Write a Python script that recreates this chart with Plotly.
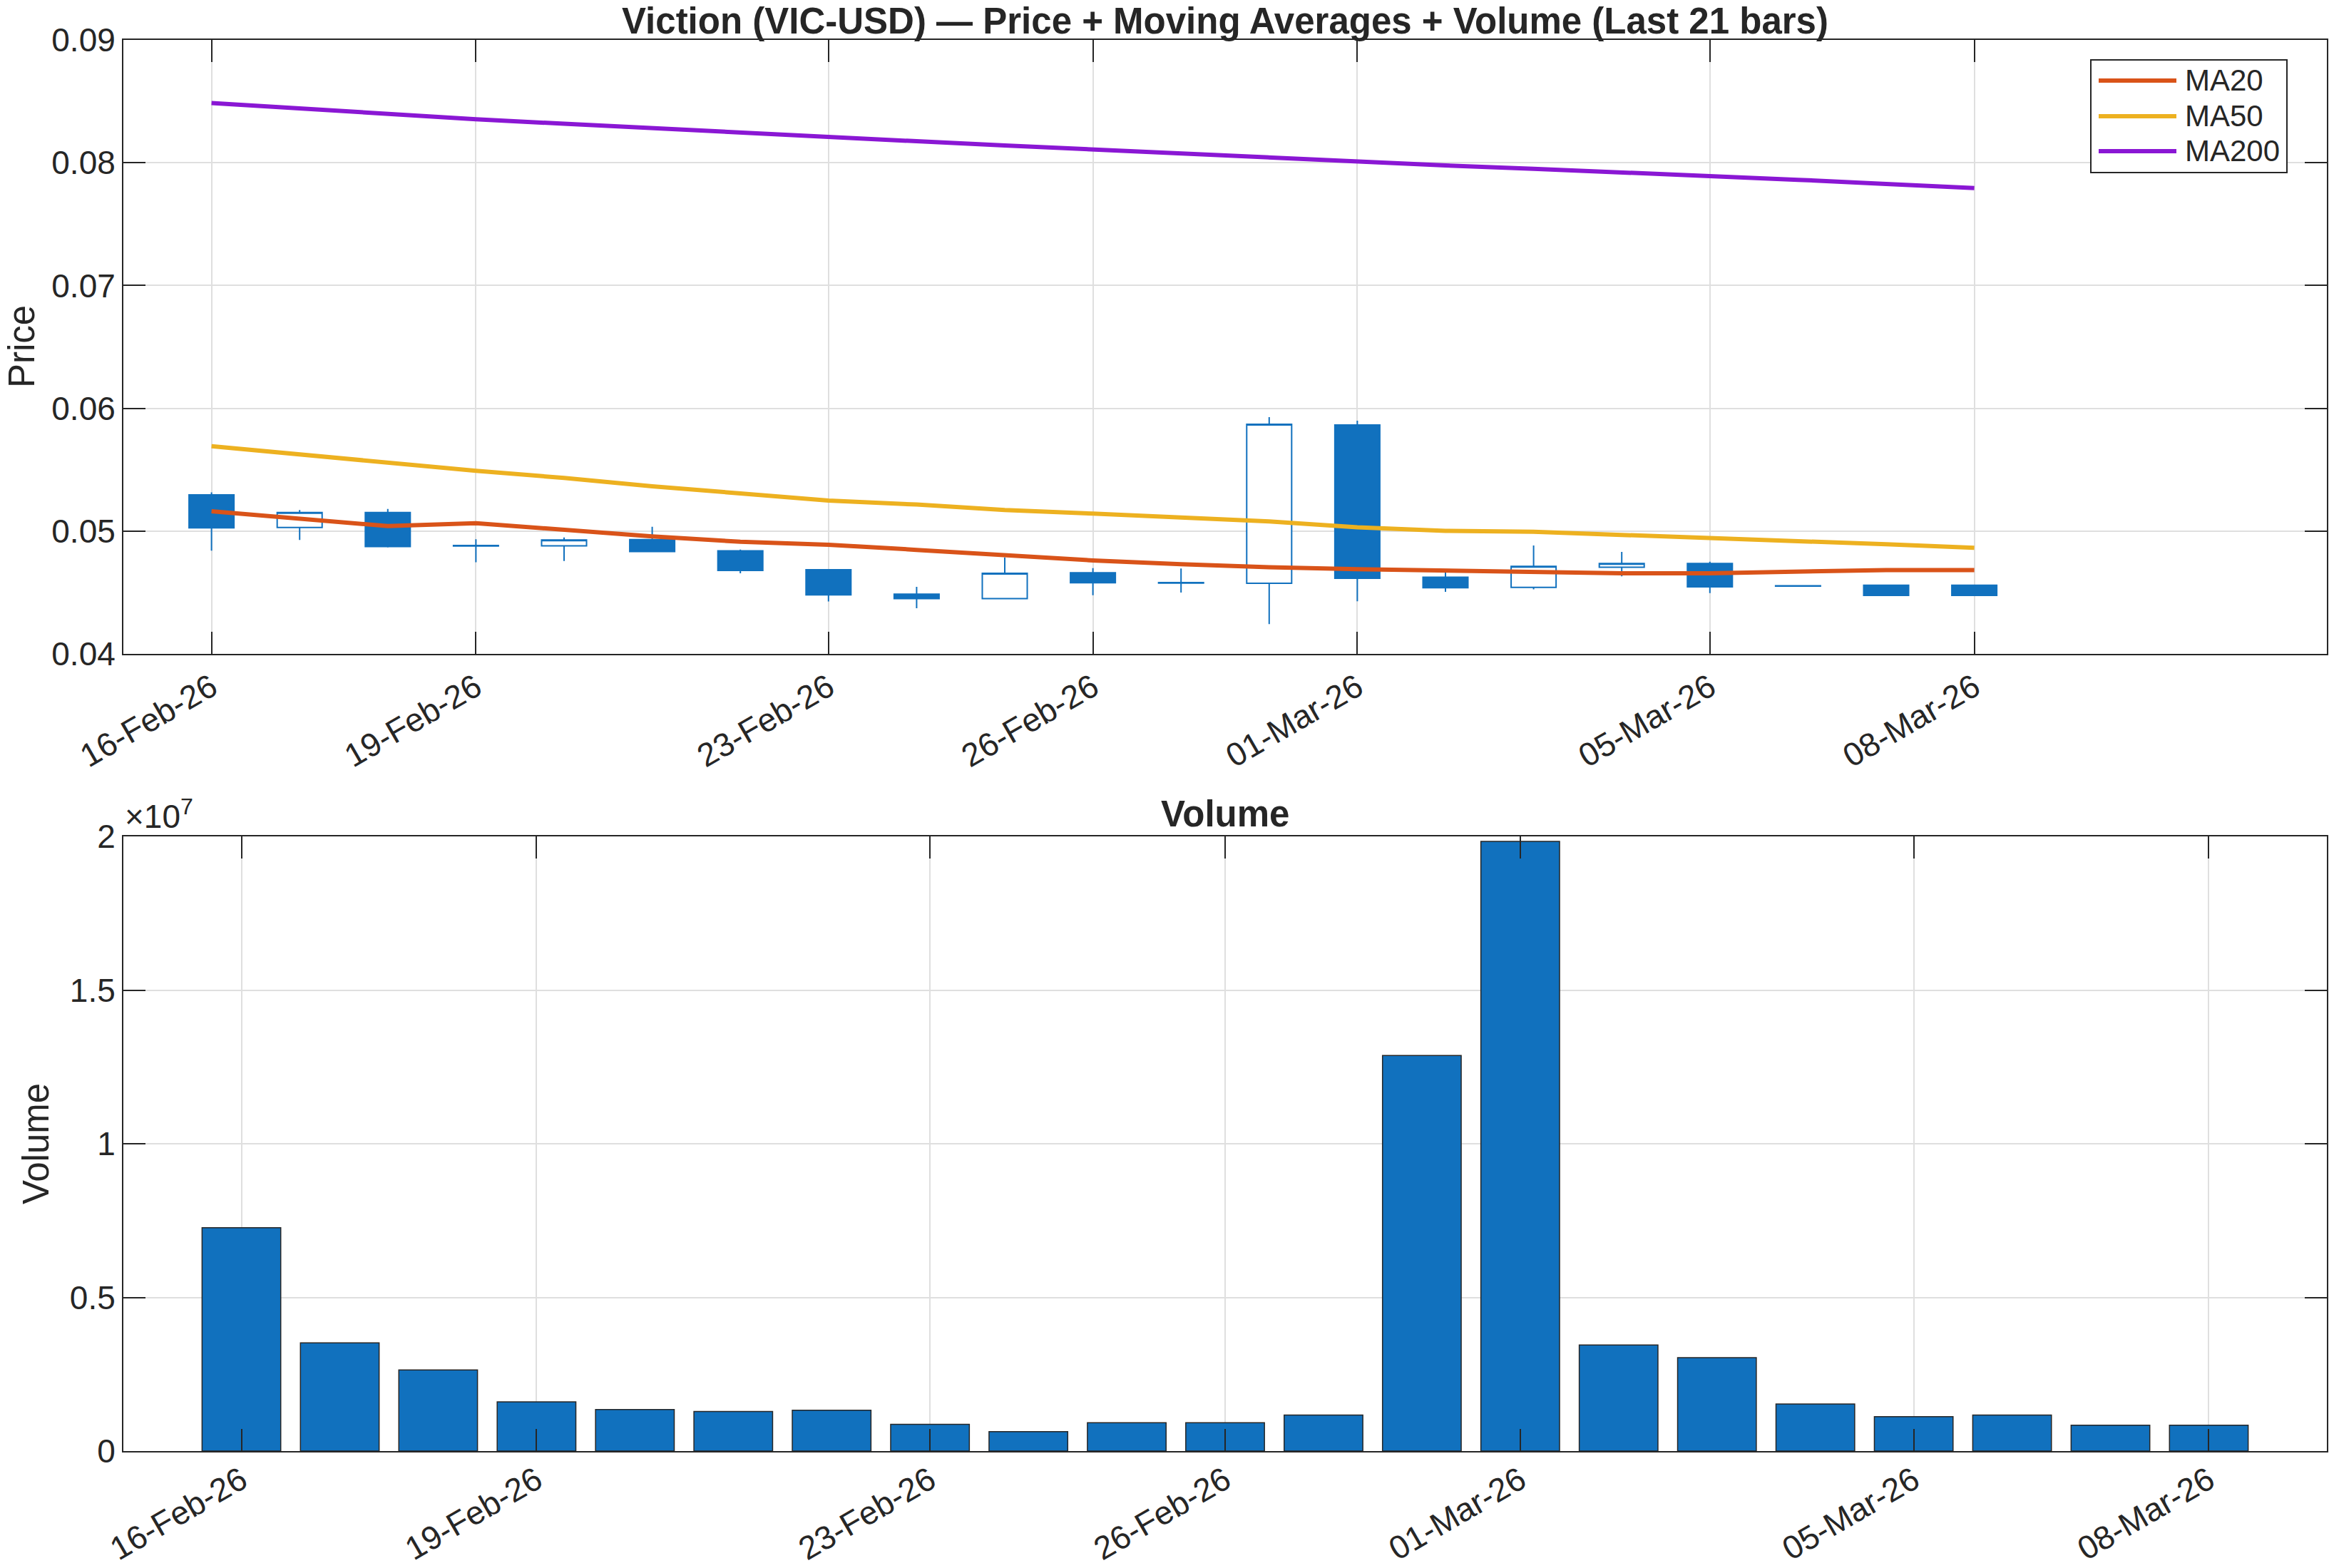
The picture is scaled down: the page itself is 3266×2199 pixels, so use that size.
import plotly.graph_objects as go

# ---------------- data ----------------
dates = ["2026-02-16", "2026-02-17", "2026-02-18", "2026-02-19", "2026-02-20",
         "2026-02-21", "2026-02-22", "2026-02-23", "2026-02-24", "2026-02-25",
         "2026-02-26", "2026-02-27", "2026-02-28", "2026-03-01", "2026-03-02",
         "2026-03-03", "2026-03-04", "2026-03-05", "2026-03-06", "2026-03-07",
         "2026-03-08"]
open_ = [0.05295, 0.05029, 0.05151, 0.04882, 0.04880, 0.04930, 0.04839, 0.04685,
         0.04487, 0.04450, 0.04660, 0.04581, 0.04575, 0.05864, 0.04625, 0.04542,
         0.04705, 0.04736, 0.04555, 0.04559, 0.04559]
high = [0.05315, 0.05171, 0.05181, 0.04934, 0.04948, 0.05035, 0.04850, 0.04687,
        0.04546, 0.04786, 0.04699, 0.04695, 0.05928, 0.05899, 0.04672, 0.04883,
        0.04831, 0.04750, 0.04555, 0.04559, 0.04559]
low = [0.04841, 0.04928, 0.04866, 0.04746, 0.04757, 0.04831, 0.04656, 0.04427,
       0.04371, 0.04448, 0.04478, 0.04499, 0.04243, 0.04429, 0.04505, 0.04526,
       0.04631, 0.04495, 0.04551, 0.04470, 0.04472]
close = [0.05027, 0.05151, 0.04874, 0.04878, 0.04928, 0.04833, 0.04680, 0.04480,
         0.04450, 0.04656, 0.04579, 0.04577, 0.05870, 0.04616, 0.04538, 0.04713,
         0.04736, 0.04546, 0.04551, 0.04476, 0.04476]
ma20 = [0.05161, 0.05101, 0.05041, 0.05064, 0.05010, 0.04957, 0.04913, 0.04889,
        0.04847, 0.04806, 0.04761, 0.04730, 0.04705, 0.04690, 0.04678, 0.04666,
        0.04656, 0.04656, 0.04670, 0.04683, 0.04683]
ma50 = [0.05691, 0.05623, 0.05557, 0.05491, 0.05433, 0.05365, 0.05307, 0.05249,
        0.05216, 0.05171, 0.05142, 0.05113, 0.05078, 0.05031, 0.05002, 0.04994,
        0.04967, 0.04938, 0.04918, 0.04893, 0.04864]
ma200 = [0.08486, 0.08441, 0.08397, 0.08354, 0.08317, 0.08280, 0.08244, 0.08209,
         0.08175, 0.08141, 0.08107, 0.08073, 0.08040, 0.08006, 0.07978, 0.07951,
         0.07923, 0.07895, 0.07861, 0.07827, 0.07793]
volume = [7.27e6, 3.52e6, 2.64e6, 1.60e6, 1.35e6, 1.29e6, 1.33e6, 0.87e6,
          0.63e6, 0.92e6, 0.92e6, 1.17e6, 12.87e6, 19.84e6, 3.45e6, 3.04e6,
          1.53e6, 1.12e6, 1.17e6, 0.84e6, 0.84e6]

tick_dates = ["2026-02-16", "2026-02-19", "2026-02-23", "2026-02-26",
              "2026-03-01", "2026-03-05", "2026-03-08"]
tick_labels = ["16-Feb-26", "19-Feb-26", "23-Feb-26", "26-Feb-26",
               "01-Mar-26", "05-Mar-26", "08-Mar-26"]
price_ticks = [0.04, 0.05, 0.06, 0.07, 0.08, 0.09]
price_tick_labels = ["0.04", "0.05", "0.06", "0.07", "0.08", "0.09"]
vol_ticks = [0, 5e6, 1e7, 1.5e7, 2e7]
vol_tick_labels = ["0", "0.5", "1", "1.5", "2"]

ma_names = ["MA20", "MA50", "MA200"]
ma_colors = ["#D95319", "#EDB120", "#8A17D4"]

# ---------------- styling ----------------
W, H = 3266, 2199
FONT = "Liberation Sans, Arial, Helvetica, sans-serif"
AX = "#262626"
GRID = "#DFDFDF"
BLUE = "#1171BE"
TICK = 46
LABEL = 51


def px(x):
    return x / W


def py(y):
    return 1 - y / H


fig = go.Figure()

fig.add_trace(go.Candlestick(
    x=dates, open=open_, high=high, low=low, close=close,
    increasing=dict(line=dict(color=BLUE, width=2), fillcolor="white"),
    decreasing=dict(line=dict(color=BLUE, width=2), fillcolor=BLUE),
    whiskerwidth=0, showlegend=False, xaxis="x", yaxis="y"))

for name, vals, col in zip(ma_names, [ma20, ma50, ma200], ma_colors):
    fig.add_trace(go.Scatter(x=dates, y=vals, mode="lines", name=name,
                             line=dict(color=col, width=6), showlegend=False,
                             xaxis="x", yaxis="y"))

fig.add_trace(go.Bar(x=dates, y=volume, marker=dict(color=BLUE, line=dict(color=AX, width=1.5)),
                     showlegend=False, xaxis="x2", yaxis="y2"))

common_axis = dict(
    showline=True, linecolor=AX, linewidth=2, mirror="ticks",
    ticks="inside", ticklen=31, tickwidth=2, tickcolor=AX,
    showgrid=True, gridcolor=GRID, gridwidth=1.5, zeroline=False,
    tickfont=dict(family=FONT, size=TICK, color=AX), automargin=False,
)

fig.update_layout(
    width=W, height=H,
    margin=dict(l=0, r=0, t=0, b=0),
    paper_bgcolor="white", plot_bgcolor="white",
    font=dict(family=FONT, color=AX),
    boxgap=0.49, boxgroupgap=0.0,
    bargap=0.2,
    xaxis=dict(common_axis, type="date", domain=[px(173), px(3263)], anchor="y",
               range=["2026-02-15", "2026-03-12"], tickmode="array",
               tickvals=tick_dates, ticktext=tick_labels, tickangle=-30,
               rangeslider=dict(visible=False)),
    yaxis=dict(common_axis, domain=[py(917), py(56)], anchor="x",
               range=[0.04, 0.09], tickmode="array", tickvals=price_ticks,
               ticktext=price_tick_labels),
    xaxis2=dict(common_axis, type="date", domain=[px(173), px(3263)], anchor="y2",
                range=["2026-02-14 19:12", "2026-03-09 04:48"], tickmode="array",
                tickvals=tick_dates, ticktext=tick_labels, tickangle=-30,
                ticklabelstandoff=-6),
    yaxis2=dict(common_axis, domain=[py(2035), py(1173)], anchor="x2",
                range=[0, 2e7], tickmode="array", tickvals=vol_ticks,
                ticktext=vol_tick_labels),
)

ann = [
    dict(text="<b>Viction (VIC-USD) — Price + Moving Averages + Volume (Last 21 bars)</b>",
         x=px(1718), y=1.0, xref="paper", yref="paper", xanchor="center", yanchor="top",
         showarrow=False, borderpad=0, font=dict(family=FONT, size=LABEL, color=AX)),
    dict(text="<b>Volume</b>", x=px(1718), y=py(1141), xref="paper", yref="paper",
         xanchor="center", yanchor="middle", showarrow=False,
         font=dict(family=FONT, size=LABEL, color=AX)),
    dict(text="Price", x=px(31), y=py(486), xref="paper", yref="paper", textangle=-90,
         xanchor="center", yanchor="middle", showarrow=False,
         font=dict(family=FONT, size=LABEL, color=AX)),
    dict(text="Volume", x=px(50), y=py(1604), xref="paper", yref="paper", textangle=-90,
         xanchor="center", yanchor="middle", showarrow=False,
         font=dict(family=FONT, size=LABEL, color=AX)),
    dict(text="×10<sup>7</sup>", x=px(173), y=py(1142), xref="paper", yref="paper",
         xanchor="left", yanchor="middle", showarrow=False,
         font=dict(family=FONT, size=TICK, color=AX)),
]

shapes = [dict(type="rect", xref="paper", yref="paper", x0=px(2932), x1=px(3207),
               y0=py(242), y1=py(84), line=dict(color=AX, width=2), fillcolor="white",
               layer="above")]
leg_y = [113, 163, 212]
for name, col, yy in zip(ma_names, ma_colors, leg_y):
    shapes.append(dict(type="line", xref="paper", yref="paper", x0=px(2943), x1=px(3052),
                       y0=py(yy), y1=py(yy), line=dict(color=col, width=6), layer="above"))
    ann.append(dict(text=name, x=px(3062), y=py(yy), xref="paper", yref="paper",
                    xanchor="left", yanchor="middle", showarrow=False,
                    font=dict(family=FONT, size=42, color=AX)))

fig.update_layout(annotations=ann, shapes=shapes)

fig.write_html("out.html")
